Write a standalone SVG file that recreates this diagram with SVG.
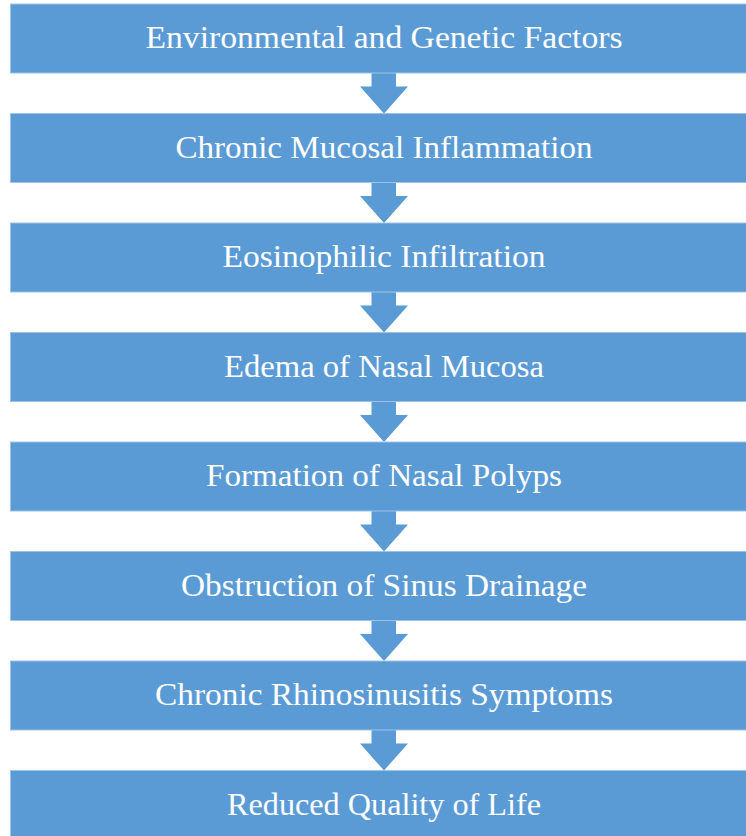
<svg xmlns="http://www.w3.org/2000/svg" width="746" height="836" viewBox="0 0 746 836">
<defs>
<style>
.box{fill:#5B9BD5;stroke:#9DC3E6;stroke-width:1}
.lbl{font-family:"Liberation Serif","DejaVu Serif",serif;font-size:32px;fill:#FFFFFF;text-anchor:middle}
.arr{fill:#5B9BD5}
</style>
</defs>
<rect width="746" height="836" fill="#FFFFFF"/>
<g id="connectors">
<path class="arr" d="M371.5,73 H396 V86.5 H408 L384,113.5 L360,86.5 H371.5 Z"/>
<path class="arr" d="M371.5,182.5 H396 V196 H408 L384,223 L360,196 H371.5 Z"/>
<path class="arr" d="M371.5,292 H396 V305.5 H408 L384,332.5 L360,305.5 H371.5 Z"/>
<path class="arr" d="M371.5,401.5 H396 V415 H408 L384,442 L360,415 H371.5 Z"/>
<path class="arr" d="M371.5,511 H396 V524.5 H408 L384,551.5 L360,524.5 H371.5 Z"/>
<path class="arr" d="M371.5,620.5 H396 V634 H408 L384,661 L360,634 H371.5 Z"/>
<path class="arr" d="M371.5,730 H396 V743.5 H408 L384,770.5 L360,743.5 H371.5 Z"/>
</g>
<g id="n1"><rect class="box" x="10.5" y="4" width="748" height="69"/><text class="lbl" x="384" y="48" textLength="477" lengthAdjust="spacingAndGlyphs">Environmental and Genetic Factors</text></g>
<g id="n2"><rect class="box" x="10.5" y="113.5" width="748" height="69"/><text class="lbl" x="384" y="157.5" textLength="417" lengthAdjust="spacingAndGlyphs">Chronic Mucosal Inflammation</text></g>
<g id="n3"><rect class="box" x="10.5" y="223" width="748" height="69"/><text class="lbl" x="384" y="267" textLength="323" lengthAdjust="spacingAndGlyphs">Eosinophilic Infiltration</text></g>
<g id="n4"><rect class="box" x="10.5" y="332.5" width="748" height="69"/><text class="lbl" x="384" y="376.5" textLength="320" lengthAdjust="spacingAndGlyphs">Edema of Nasal Mucosa</text></g>
<g id="n5"><rect class="box" x="10.5" y="442" width="748" height="69"/><text class="lbl" x="384" y="486" textLength="356" lengthAdjust="spacingAndGlyphs">Formation of Nasal Polyps</text></g>
<g id="n6"><rect class="box" x="10.5" y="551.5" width="748" height="69"/><text class="lbl" x="384" y="595.5" textLength="406" lengthAdjust="spacingAndGlyphs">Obstruction of Sinus Drainage</text></g>
<g id="n7"><rect class="box" x="10.5" y="661" width="748" height="69"/><text class="lbl" x="384" y="705" textLength="458" lengthAdjust="spacingAndGlyphs">Chronic Rhinosinusitis Symptoms</text></g>
<g id="n8"><rect class="box" x="10.5" y="770.5" width="748" height="69"/><text class="lbl" x="384" y="814.5" textLength="314" lengthAdjust="spacingAndGlyphs">Reduced Quality of Life</text></g>
</svg>
